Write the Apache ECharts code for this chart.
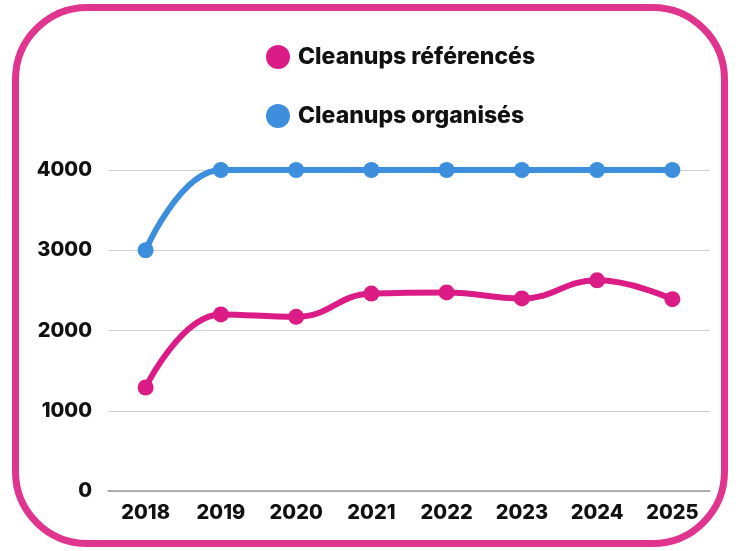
<!DOCTYPE html>
<html>
<head>
<meta charset="utf-8">
<script src="https://cdn.jsdelivr.net/npm/echarts@6/dist/echarts.min.js"></script>
<style>
  html, body { margin: 0; padding: 0; background: #fff; }
  #chart { width: 740px; height: 551px; }
</style>
</head>
<body>
<div id="chart"></div>
<script>
var years = ['2018', '2019', '2020', '2021', '2022', '2023', '2024', '2025'];
var referenced = [1290, 2200, 2170, 2460, 2475, 2400, 2625, 2390];
var organised = [3000, 4000, 4000, 4000, 4000, 4000, 4000, 4000];
var yTicks = [0, 1000, 2000, 3000, 4000];

var font = 'Inter, "Open Sans", sans-serif';
var chart = echarts.init(document.getElementById('chart'));

chart.setOption({
  animation: false,
  textStyle: { fontFamily: font },
  graphic: [{
    type: 'rect',
    shape: { x: 15.5, y: 7.5, width: 709, height: 536, r: 72 },
    style: { fill: 'none', stroke: '#E0358E', lineWidth: 7 },
    silent: true
  }],
  legend: {
    orient: 'vertical',
    left: 261,
    top: 40,
    itemWidth: 24,
    itemHeight: 24,
    itemGap: 35,
    icon: 'circle',
    textStyle: { fontSize: 23, fontWeight: 800, color: '#111', fontFamily: font, padding: [0, 0, 0, 3] },
    data: ['Cleanups référencés', 'Cleanups organisés']
  },
  grid: { left: 108, right: 30, top: 170, bottom: 60 },
  xAxis: {
    type: 'category',
    data: years,
    boundaryGap: true,
    axisTick: { show: false },
    axisLine: { lineStyle: { color: '#999', width: 1.5 } },
    axisLabel: { fontSize: 20, fontWeight: 800, color: '#111', margin: 12, fontFamily: font }
  },
  yAxis: {
    type: 'value',
    min: yTicks[0],
    max: yTicks[yTicks.length - 1],
    interval: 1000,
    axisLabel: {
      fontSize: 20, fontWeight: 800, color: '#111', margin: 16, fontFamily: font,
      formatter: function (v) { return String(v); }
    },
    splitLine: { lineStyle: { color: '#d0d0d0', width: 1 } }
  },
  series: [{
    name: 'Cleanups référencés',
    type: 'line',
    data: referenced,
    smooth: 0.45,
    symbol: 'circle',
    symbolSize: 16,
    itemStyle: { color: '#DC1C86' },
    lineStyle: { color: '#DC1C86', width: 6 }
  }, {
    name: 'Cleanups organisés',
    type: 'line',
    data: organised,
    smooth: 0.45,
    symbol: 'circle',
    symbolSize: 16,
    itemStyle: { color: '#3E8EDE' },
    lineStyle: { color: '#3E8EDE', width: 6 }
  }]
});
</script>
</body>
</html>
